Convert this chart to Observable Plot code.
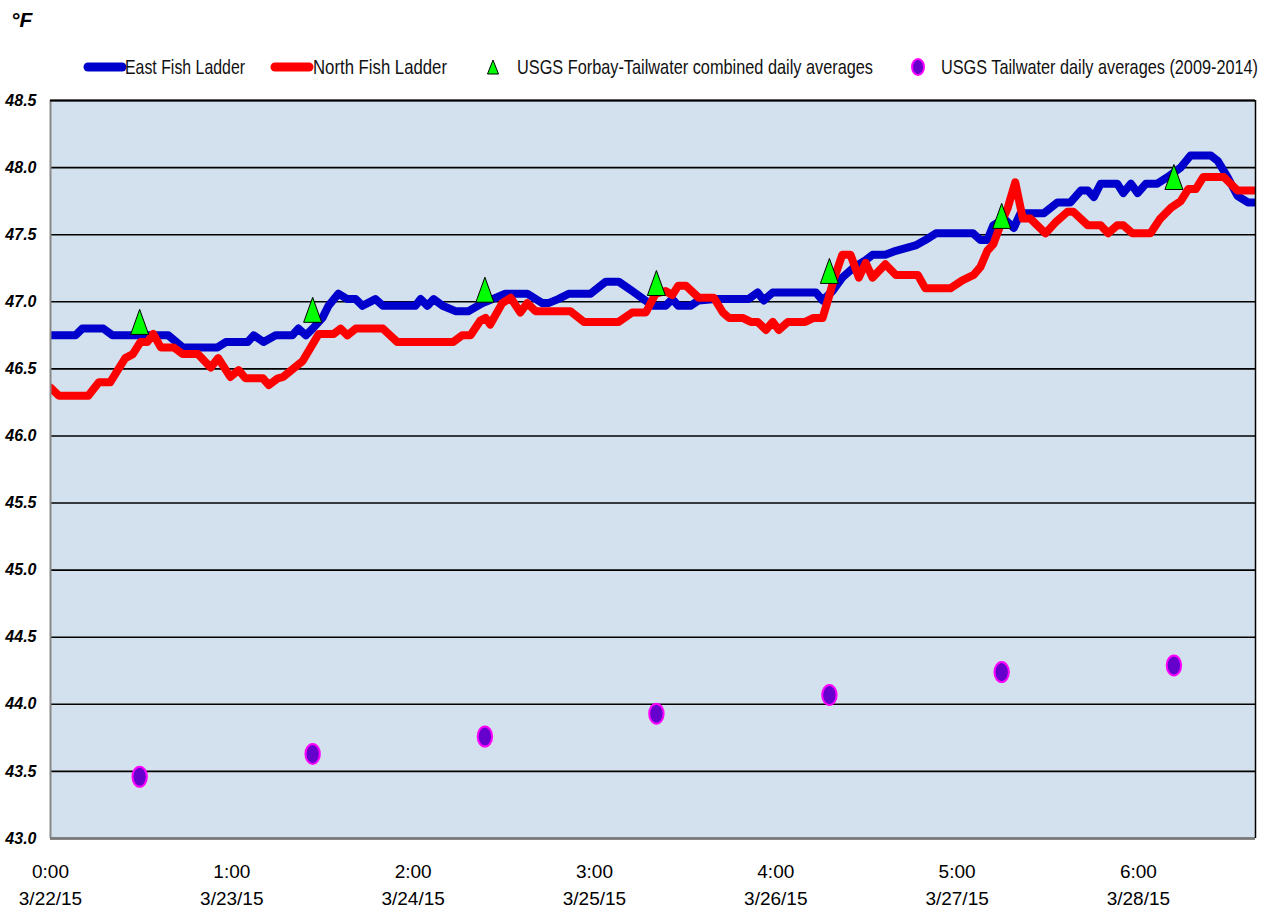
<!DOCTYPE html>
<html>
<head>
<meta charset="utf-8">
<script src="https://cdn.jsdelivr.net/npm/d3@7"></script>
<script src="https://cdn.jsdelivr.net/npm/@observablehq/plot@0.6"></script>
<style>
  html, body { margin: 0; padding: 0; background: #fff; }
  body { width: 1270px; height: 918px; overflow: hidden; font-family: "Liberation Sans", Arial, sans-serif; }
  #head { position: relative; height: 90px; }
  #unit { position: absolute; left: 11px; top: 8px; font-size: 21px; font-weight: bold; font-style: italic; }
  #legend { position: absolute; left: 0; top: 0; width: 1270px; height: 90px; font-size: 21px; color: #111; white-space: nowrap; }
  #legend .sw { position: absolute; display: block; line-height: 0; }
  #legend .tx { position: absolute; top: 54px; line-height: 26px; transform-origin: 0 50%; }
</style>
</head>
<body>
<div id="head">
  <div id="unit">°F</div>
  <div id="legend"></div>
</div>
<div id="chart"></div>
<script>
// ---- data (hours since 3/22/15 0:00, °F) ----
const eastHours = [0,3.3,4.2,7.0,8.2,15.6,17.5,22.1,23.2,26.1,26.9,28.2,29.8,32.0,32.8,33.8,34.7,36.0,36.8,38.1,39.3,40.4,41.3,43.0,44.0,48.3,49.0,49.9,50.7,51.9,53.6,55.3,57.2,58.5,60.2,63.1,65.1,65.9,67.2,68.6,71.5,73.5,75.2,77.0,79.7,81.4,82.3,83.1,84.7,85.8,88.0,92.4,93.6,94.4,95.6,101.3,102.2,103.5,104.8,106.2,107.9,108.8,110.5,111.9,113.2,114.5,115.8,117.2,122.1,123.1,124.0,124.8,126.2,127.5,128.4,131.5,133.3,135.0,136.4,137.3,138.1,139.0,141.2,142.0,143.0,143.9,145.0,146.5,147.9,149.6,150.9,153.6,154.5,155.8,157.1,158.5,159.3];
const eastTemps = [46.75,46.75,46.80,46.80,46.75,46.75,46.66,46.66,46.70,46.70,46.75,46.70,46.75,46.75,46.80,46.75,46.80,46.88,46.97,47.06,47.02,47.02,46.97,47.02,46.97,46.97,47.02,46.97,47.02,46.97,46.93,46.93,46.99,47.02,47.06,47.06,46.99,46.99,47.02,47.06,47.06,47.15,47.15,47.08,46.97,46.97,47.02,46.97,46.97,47.01,47.02,47.02,47.07,47.01,47.07,47.07,47.01,47.08,47.18,47.25,47.31,47.35,47.35,47.38,47.40,47.42,47.46,47.51,47.51,47.46,47.46,47.57,47.62,47.55,47.66,47.66,47.74,47.74,47.83,47.83,47.78,47.88,47.88,47.81,47.88,47.81,47.88,47.88,47.93,48.00,48.09,48.09,48.05,47.93,47.79,47.74,47.74];

const northHours = [0,1.1,5.0,6.4,7.9,8.9,9.9,10.9,11.9,12.8,13.6,14.6,16.3,17.5,19.5,21.2,22.2,23.8,24.9,25.8,28.1,28.9,30.1,30.8,33.4,35.5,37.5,38.4,39.3,40.4,44.0,45.9,53.3,54.5,55.6,56.9,57.6,58.2,59.8,60.9,62.2,63.1,64.2,68.8,70.6,75.2,77.0,78.8,80.1,81.4,82.3,83.1,84.1,85.8,87.8,89.0,89.8,91.6,92.7,93.6,94.7,95.6,96.4,97.6,99.9,101.0,102.2,103.0,103.7,104.8,105.9,107.0,107.9,108.8,110.5,111.9,114.8,115.8,119.1,120.7,122.2,123.1,124.0,124.8,125.8,126.7,127.7,128.7,129.7,131.7,133.0,134.6,135.4,137.3,139.0,140.0,141.2,142.0,143.2,145.6,146.9,148.3,149.6,150.6,151.6,152.6,155.3,157.1,159.3];
const northTemps = [46.36,46.30,46.30,46.40,46.40,46.49,46.58,46.61,46.70,46.70,46.76,46.66,46.66,46.61,46.61,46.51,46.58,46.44,46.49,46.43,46.43,46.38,46.43,46.44,46.56,46.76,46.76,46.80,46.75,46.80,46.80,46.70,46.70,46.75,46.75,46.86,46.88,46.83,46.99,47.03,46.92,46.99,46.93,46.93,46.85,46.85,46.92,46.92,47.06,47.08,47.05,47.12,47.12,47.03,47.03,46.92,46.88,46.88,46.85,46.85,46.79,46.85,46.79,46.85,46.85,46.88,46.88,47.03,47.17,47.35,47.35,47.18,47.29,47.18,47.28,47.20,47.20,47.10,47.10,47.16,47.20,47.26,47.38,47.43,47.58,47.70,47.89,47.62,47.62,47.51,47.59,47.67,47.67,47.57,47.57,47.51,47.57,47.57,47.51,47.51,47.62,47.70,47.75,47.84,47.84,47.93,47.93,47.83,47.83];

const dailyHours = [11.8,34.7,57.5,80.2,103.1,125.9,148.7];
const forbayTailwater = [46.85,46.94,47.09,47.14,47.23,47.64,47.93];
const tailwaterHist = [43.46,43.63,43.76,43.93,44.07,44.24,44.29];

const dayTicks = [0,24,48,72,96,120,144];
const dayTimeLabels = ["0:00","1:00","2:00","3:00","4:00","5:00","6:00"];
const dayDateLabels = ["3/22/15","3/23/15","3/24/15","3/25/15","3/26/15","3/27/15","3/28/15"];
const yTicks = [43.0,43.5,44.0,44.5,45.0,45.5,46.0,46.5,47.0,47.5,48.0,48.5];

const seriesNames = ["East Fish Ladder","North Fish Ladder","USGS Forbay-Tailwater combined daily averages","USGS Tailwater daily averages (2009-2014)"];

// ---- tables ----
const east = eastHours.map((h,i)=>({h, v: eastTemps[i]}));
const north = northHours.map((h,i)=>({h, v: northTemps[i]}));
const tri = dailyHours.map((h,i)=>({h, v: forbayTailwater[i]}));
const circ = dailyHours.map((h,i)=>({h, v: tailwaterHist[i]}));

// custom symbols
const tallTriangle = { draw(ctx, size) { const r = Math.sqrt(size/Math.PI); ctx.moveTo(0,-r); ctx.lineTo(0.72*r, r); ctx.lineTo(-0.72*r, r); ctx.closePath(); } };
const tallEllipse = { draw(ctx, size) {
  const r = Math.sqrt(size/Math.PI); const rx = 0.72*r, ry = r, k = 0.5523;
  ctx.moveTo(0,-ry);
  ctx.bezierCurveTo(k*rx,-ry, rx,-k*ry, rx,0);
  ctx.bezierCurveTo(rx,k*ry, k*rx,ry, 0,ry);
  ctx.bezierCurveTo(-k*rx,ry, -rx,k*ry, -rx,0);
  ctx.bezierCurveTo(-rx,-k*ry, -k*rx,-ry, 0,-ry);
  ctx.closePath(); } };

const font = '"Liberation Sans", Arial, sans-serif';

const chart = Plot.plot({
  width: 1270,
  height: 828,
  marginTop: 10,
  marginBottom: 80,
  marginLeft: 50,
  marginRight: 15,
  style: { fontFamily: font, background: "#fff", color: "#000" },
  x: { domain: [0, 159.5] },
  y: { domain: [43, 48.5] },
  marks: [
    Plot.frame({ fill: "#D3E0ED", stroke: null }),
    Plot.ruleY(yTicks, { stroke: "#000", strokeWidth: 1.6 }),
    Plot.axisY({ ticks: yTicks, tickFormat: d => d.toFixed(1), tickSize: 0, tickPadding: 14, fontSize: 16, fontWeight: "bold", fontStyle: "italic", label: null }),
    Plot.axisX({ ticks: dayTicks, tickFormat: (d,i) => dayTimeLabels[i] + "\n" + dayDateLabels[i], tickSize: 0, tickPadding: 20, fontSize: 19, lineHeight: 1.42, label: null }),
    Plot.line(east, { x: "h", y: "v", stroke: "#0000CC", strokeWidth: 8, strokeLinejoin: "round", strokeLinecap: "round", clip: true }),
    Plot.line(north, { x: "h", y: "v", stroke: "#FF0000", strokeWidth: 8, strokeLinejoin: "round", strokeLinecap: "round", clip: true }),
    Plot.dot(tri, { x: "h", y: "v", symbol: tallTriangle, r: 12.5, fill: "#00FF00", stroke: "#000", strokeWidth: 1 }),
    Plot.dot(circ, { x: "h", y: "v", symbol: tallEllipse, r: 10, fill: "#6600CC", stroke: "#FF00FF", strokeWidth: 2 }),
    Plot.ruleX([0], { stroke: "#888", strokeWidth: 2 }),
    Plot.ruleY([43], { stroke: "#777", strokeWidth: 2.5 }),
    Plot.ruleX([159.5], { stroke: "#000", strokeWidth: 1.5 }),
    Plot.ruleY([48.5], { stroke: "#000", strokeWidth: 2 })
  ]
});
document.getElementById("chart").appendChild(chart);

// ---- legend (HTML, condensed text to mimic Calibri) ----
const legend = document.getElementById("legend");
const legendItems = [
  { sw: `<svg width="44" height="12"><line x1="5" y1="6" x2="39" y2="6" stroke="#0000CC" stroke-width="9" stroke-linecap="round"/></svg>`, swLeft: 83, swTop: 61, txLeft: 125, txWidth: 120 },
  { sw: `<svg width="44" height="12"><line x1="5" y1="6" x2="39" y2="6" stroke="#FF0000" stroke-width="9" stroke-linecap="round"/></svg>`, swLeft: 270, swTop: 61, txLeft: 313, txWidth: 134 },
  { sw: `<svg width="14" height="16"><path d="M7,1 L12.5,15 L1.5,15 Z" fill="#00FF00" stroke="#000" stroke-width="1"/></svg>`, swLeft: 486, swTop: 59, txLeft: 517, txWidth: 356 },
  { sw: `<svg width="16" height="20"><ellipse cx="8" cy="10" rx="6" ry="8" fill="#6600CC" stroke="#FF00FF" stroke-width="2"/></svg>`, swLeft: 910, swTop: 57, txLeft: 941, txWidth: 317 }
];
seriesNames.forEach((name, i) => {
  const it = legendItems[i];
  const sw = document.createElement("div");
  sw.className = "sw";
  sw.style.left = it.swLeft + "px";
  sw.style.top = it.swTop + "px";
  sw.innerHTML = it.sw;
  legend.appendChild(sw);
  const tx = document.createElement("span");
  tx.className = "tx";
  tx.style.left = it.txLeft + "px";
  tx.textContent = name;
  legend.appendChild(tx);
  const w = tx.getBoundingClientRect().width;
  tx.style.transform = `scaleX(${it.txWidth / w})`;
});
</script>
</body>
</html>
